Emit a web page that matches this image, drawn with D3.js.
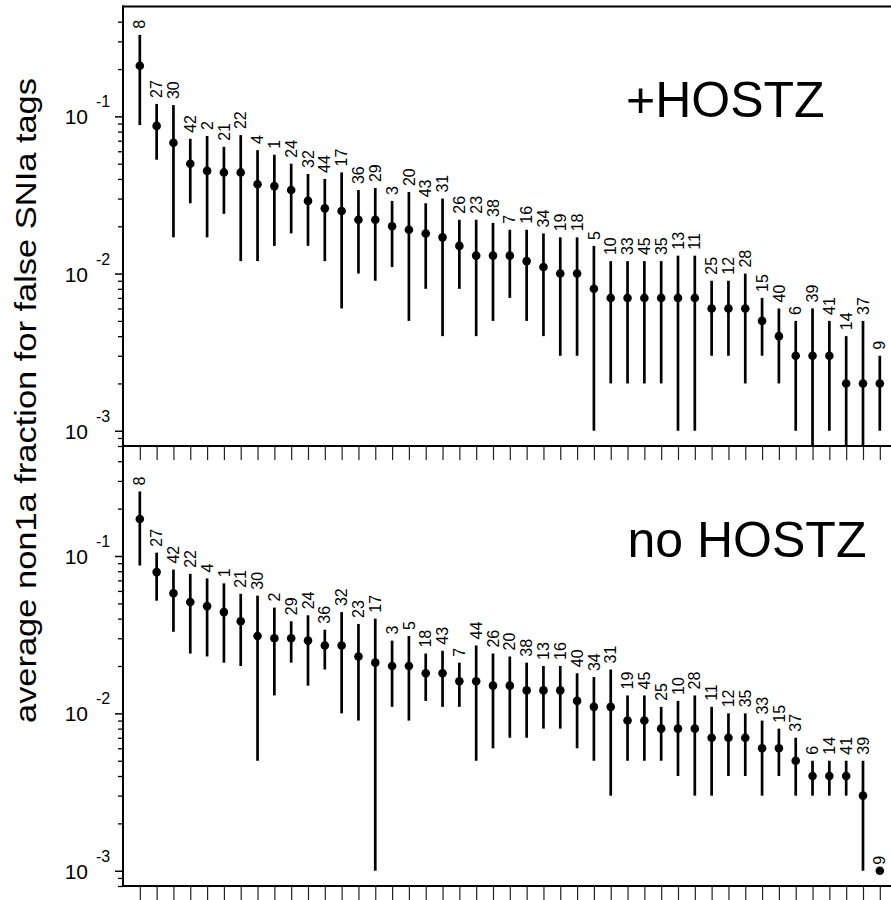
<!DOCTYPE html>
<html>
<head>
<meta charset="utf-8">
<script src="https://cdn.jsdelivr.net/npm/d3@7"></script>
<style>
  html, body { margin: 0; padding: 0; background: #fff; }
  svg { display: block; font-family: "Liberation Sans", Arial, sans-serif; }
</style>
</head>
<body>
<script>
// ---------- data ----------
const topIds = [8,27,30,42,2,21,22,4,1,24,32,44,17,36,29,3,20,43,31,26,23,38,7,16,34,19,18,5,10,33,45,35,13,11,25,12,28,15,40,6,39,41,14,37,9];
const topVal = [0.21,0.087,0.068,0.05,0.045,0.044,0.044,0.037,0.036,0.034,0.029,0.026,0.025,0.022,0.022,0.02,0.019,0.018,0.017,0.015,0.013,0.013,0.013,0.012,0.011,0.01,0.01,0.008,0.007,0.007,0.007,0.007,0.007,0.007,0.006,0.006,0.006,0.005,0.004,0.003,0.003,0.003,0.002,0.002,0.002];
const topHi  = [0.33,0.12,0.118,0.072,0.075,0.064,0.076,0.061,0.057,0.05,0.043,0.04,0.044,0.034,0.035,0.029,0.033,0.028,0.03,0.022,0.022,0.021,0.019,0.019,0.018,0.017,0.017,0.015,0.012,0.012,0.012,0.012,0.013,0.013,0.009,0.009,0.01,0.007,0.006,0.005,0.006,0.005,0.004,0.005,0.003];
const topLo  = [0.088,0.053,0.017,0.028,0.017,0.024,0.012,0.012,0.015,0.018,0.015,0.012,0.006,0.01,0.009,0.011,0.005,0.008,0.004,0.008,0.004,0.005,0.007,0.005,0.004,0.003,0.003,0.001,0.002,0.002,0.002,0.002,0.001,0.001,0.003,0.003,0.002,0.003,0.002,0.001,0,0.001,0,0,0.001];

const botIds = [8,27,42,22,4,1,21,30,2,29,24,36,32,23,17,3,5,18,43,7,44,26,20,38,13,16,40,34,31,19,45,25,10,28,11,12,35,33,15,37,6,14,41,39,9];
const botVal = [0.172,0.079,0.058,0.051,0.048,0.044,0.0385,0.031,0.03,0.03,0.029,0.027,0.027,0.023,0.021,0.02,0.02,0.018,0.018,0.016,0.016,0.015,0.015,0.014,0.014,0.014,0.012,0.011,0.011,0.009,0.009,0.008,0.008,0.008,0.007,0.007,0.007,0.006,0.006,0.005,0.004,0.004,0.004,0.003,0.001];
const botHi  = [0.257,0.105,0.082,0.077,0.072,0.067,0.0575,0.056,0.047,0.0385,0.042,0.034,0.044,0.037,0.04,0.029,0.031,0.024,0.025,0.021,0.027,0.024,0.023,0.021,0.02,0.02,0.018,0.017,0.019,0.013,0.013,0.011,0.012,0.013,0.011,0.01,0.01,0.009,0.008,0.007,0.005,0.005,0.005,0.005,0.001];
const botLo  = [0.087,0.052,0.033,0.024,0.023,0.021,0.02,0.005,0.013,0.021,0.015,0.019,0.01,0.009,0.001,0.011,0.009,0.012,0.011,0.011,0.005,0.006,0.007,0.007,0.008,0.008,0.006,0.005,0.003,0.005,0.005,0.005,0.004,0.003,0.003,0.004,0.004,0.003,0.004,0.003,0.003,0.003,0.003,0.001,0.001];

const yDomain = [0.0008, 0.5];
const majorTicks = [0.001, 0.01, 0.1];
const majorExp = ["-3", "-2", "-1"];
const panelTitles = ["+HOSTZ", "no HOSTZ"];
const yTitle = "average non1a fraction for false SNIa tags";

// ---------- layout ----------
const W = 891, H = 900;
const left = 123;
const step = 16.818;
const panels = [
  { top: 6.5, bottom: 446, ids: topIds, val: topVal, hi: topHi, lo: topLo, title: panelTitles[0], tx: 626, ty: 116.7 },
  { top: 446, bottom: 886, ids: botIds, val: botVal, hi: botHi, lo: botLo, title: panelTitles[1], tx: 627.5, ty: 556.7 }
];

const svg = d3.select("body").append("svg").attr("width", W).attr("height", H);

const x = d3.scaleLinear().domain([-1, 46]).range([left, left + 47 * step]);

// minor tick values
const minorTicks = [];
[-4, -3, -2, -1].forEach(e => {
  for (let m = 2; m <= 9; m++) {
    const v = m * Math.pow(10, e);
    if (v >= yDomain[0] - 1e-12 && v < yDomain[1] - 1e-9) minorTicks.push(v);
  }
});

panels.forEach(p => {
  const y = d3.scaleLog().domain(yDomain).range([p.bottom, p.top]);
  const yc = v => y(Math.max(v, yDomain[0]));
  const g = svg.append("g");

  // y minor ticks
  const gMinor = g.append("g").attr("transform", `translate(${left},0)`)
    .call(d3.axisLeft(y).tickValues(minorTicks).tickSize(5).tickFormat(""));
  gMinor.select(".domain").remove();
  gMinor.selectAll("line").attr("stroke", "#000").attr("stroke-width", 1.3);

  // y major ticks
  const gMajor = g.append("g").attr("transform", `translate(${left},0)`)
    .call(d3.axisLeft(y).tickValues(majorTicks).tickSize(8).tickFormat(""));
  gMajor.select(".domain").remove();
  gMajor.selectAll("line").attr("stroke", "#000").attr("stroke-width", 1.5);

  // major labels 10^k
  majorTicks.forEach((t, i) => {
    g.append("text").attr("x", 88).attr("y", y(t) + 8)
      .attr("text-anchor", "end").attr("font-size", 21).attr("fill", "#000")
      .text("10");
    g.append("text").attr("x", 96).attr("y", y(t) - 9)
      .attr("text-anchor", "start").attr("font-size", 16).attr("fill", "#000")
      .text(majorExp[i]);
  });

  // x ticks (pointing down from the panel bottom)
  const gx = g.append("g").attr("transform", `translate(0,${p.bottom})`)
    .call(d3.axisBottom(x).tickValues(d3.range(0, 46)).tickSize(14).tickFormat(""));
  gx.select(".domain").remove();
  gx.selectAll("line").attr("stroke", "#222").attr("stroke-width", 1.2);

  // error bars
  g.append("g").selectAll("line.err").data(p.ids).join("line")
    .attr("class", "err")
    .attr("x1", (d, i) => x(i)).attr("x2", (d, i) => x(i))
    .attr("y1", (d, i) => yc(p.hi[i]))
    .attr("y2", (d, i) => yc(p.lo[i]))
    .attr("stroke", "#000").attr("stroke-width", 2.7);

  // points
  g.append("g").selectAll("circle").data(p.ids).join("circle")
    .attr("cx", (d, i) => x(i)).attr("cy", (d, i) => yc(p.val[i]))
    .attr("r", 4.3).attr("fill", "#000");

  // point labels (rotated)
  g.append("g").selectAll("text").data(p.ids).join("text")
    .attr("transform", (d, i) => `translate(${x(i)},${yc(p.hi[i]) - 6}) rotate(-90)`)
    .attr("dy", "0.35em").attr("text-anchor", "start")
    .attr("font-size", 16).attr("fill", "#000")
    .text(d => d);

  // panel title
  g.append("text").attr("x", p.tx).attr("y", p.ty)
    .attr("font-size", 50).attr("fill", "#000").text(p.title);
});

// frame
const frame = svg.append("g").attr("stroke", "#000").attr("stroke-width", 2).attr("fill", "none");
frame.append("line").attr("x1", left).attr("x2", left).attr("y1", 5.5).attr("y2", 887);
frame.append("line").attr("x1", left - 1).attr("x2", W).attr("y1", 6.5).attr("y2", 6.5);
frame.append("line").attr("x1", left - 1).attr("x2", W).attr("y1", 446).attr("y2", 446);
frame.append("line").attr("x1", left - 1).attr("x2", W).attr("y1", 886).attr("y2", 886);

// y-axis title
svg.append("text")
  .attr("transform", "translate(35.5,400.5) rotate(-90)")
  .attr("text-anchor", "middle").attr("font-size", 30).attr("fill", "#000")
  .attr("textLength", 645).attr("lengthAdjust", "spacingAndGlyphs")
  .text(yTitle);
</script>
</body>
</html>
